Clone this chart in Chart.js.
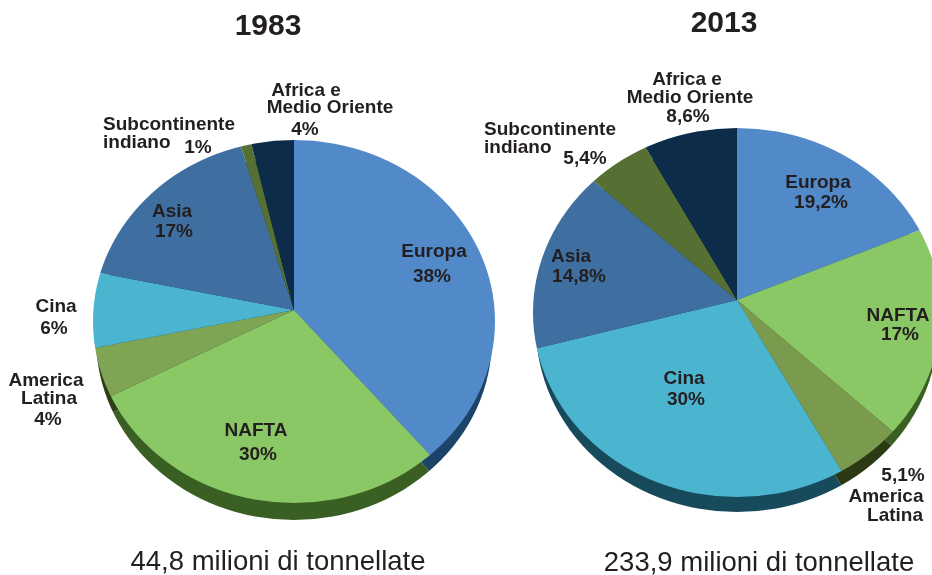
<!DOCTYPE html>
<html>
<head>
<meta charset="utf-8">
<title>Produzione per area</title>
<script src="https://cdn.jsdelivr.net/npm/chart.js@4/dist/chart.umd.min.js"></script>
<style>
    html, body { margin: 0; padding: 0; background: #fff; }
    #page { position: relative; width: 932px; height: 575px; overflow: hidden; }
    #page canvas { position: absolute; top: 0; }
</style>
</head>
<body>
<div id="page">
    <canvas id="c1983"></canvas>
    <canvas id="c2013"></canvas>
</div>

<script type="text/javascript">
    // data
    var categories1983 = ["Europa", "NAFTA", "America\nLatina", "Cina", "Asia", "Subcontinente\nindiano", "Africa e\nMedio Oriente"];
    var values1983 = [38, 30, 4, 6, 17, 1, 4];
    var percent1983 = ["38%", "30%", "4%", "6%", "17%", "1%", "4%"];
    var title1983 = "1983";
    var total1983 = "44,8 milioni di tonnellate";

    var categories2013 = ["Europa", "NAFTA", "America\nLatina", "Cina", "Asia", "Subcontinente\nindiano", "Africa e\nMedio Oriente"];
    var values2013 = [19.2, 17, 5.1, 30, 14.8, 5.4, 8.6];
    var percent2013 = ["19,2%", "17%", "5,1%", "30%", "14,8%", "5,4%", "8,6%"];
    var title2013 = "2013";
    var total2013 = "233,9 milioni di tonnellate";

    // colours
    var topColors1983 = ["#5289c9", "#8ac765", "#7fa554", "#4bb5d0", "#3f6fa0", "#566f33", "#0c2c4a"];
    var rimColors1983 = ["#1c4469", "#3a5f23", "#2f3f15", "#174a5b", "#1f3a56", "#2a3a18", "#061a2c"];
    var topColors2013 = ["#5289c9", "#8ac765", "#7a9a4e", "#4bb5d0", "#3f6fa0", "#566f33", "#0c2c4a"];
    var rimColors2013 = ["#1c4469", "#3a5f23", "#2b3a14", "#174a5b", "#1f3a56", "#2a3a18", "#061a2c"];

    // where each text line sits on the page: one [x, y, align] per line, name lines then percent
    var labelPlaces1983 = [
        [[434, 252], [432, 277]],
        [[256, 431], [258, 455]],
        [[46, 381], [49, 399], [48, 420]],
        [[56, 307], [54, 329]],
        [[172, 212], [174, 232]],
        [[103, 125, "left"], [103, 143, "left"], [198, 148]],
        [[306, 91], [330, 108], [305, 130]]
    ];
    var labelPlaces2013 = [
        [[818, 183], [821, 203]],
        [[898, 316], [900, 335]],
        [[886, 497], [895, 516], [903, 476]],
        [[684, 379], [686, 400]],
        [[571, 257], [579, 277]],
        [[484, 130, "left"], [484, 148, "left"], [585, 159]],
        [[687, 80], [690, 98], [688, 117]]
    ];

    var ink = "#231f20";
    var fontName = "'Liberation Sans', Arial, sans-serif";

    var pie3d = {
        id: "pie3d",
        beforeDatasetsDraw: function(chart, args, o){
            var ctx = chart.ctx;
            var arcs = chart.getDatasetMeta(0).data;

            // side of the pie: same wedges pushed down, darker
            ctx.save();
            ctx.beginPath();
            ctx.ellipse(o.cx - o.left, o.cy + o.depth, o.rx - 3, o.ry, 0, 0, Math.PI * 2);
            ctx.clip();
            ctx.translate(0, o.depth);
            arcs.forEach(function(arc, i){
                var fill = arc.options.backgroundColor;
                arc.options.backgroundColor = o.rim[i];
                arc.draw(ctx);
                arc.options.backgroundColor = fill;
            });
            ctx.restore();

            // top of the pie is an ellipse around an off centre apex
            ctx.save();
            ctx.beginPath();
            ctx.ellipse(o.cx - o.left, o.cy, o.rx, o.ry, 0, 0, Math.PI * 2);
            ctx.clip();
        },
        afterDatasetsDraw: function(chart, args, o){
            var ctx = chart.ctx;
            ctx.restore();

            ctx.fillStyle = ink;
            ctx.textBaseline = "middle";

            ctx.textAlign = "center";
            ctx.font = "bold 30px " + fontName;
            ctx.fillText(o.title, o.titleAt[0] - o.left, o.titleAt[1]);
            ctx.font = "27.5px " + fontName;
            ctx.fillText(o.total, o.totalAt[0] - o.left, o.totalAt[1]);

            ctx.font = "bold 19px " + fontName;
            chart.data.labels.forEach(function(name, i){
                var lines = name.split("\n").concat(o.percent[i]);
                lines.forEach(function(line, n){
                    var p = o.places[i][n];
                    ctx.textAlign = p[2] || "center";
                    ctx.fillText(line, p[0] - o.left, p[1]);
                });
            });
        }
    };

    var createPie = function(id, info){
        var canvas = document.getElementById(id);
        canvas.width = info.width;
        canvas.height = info.height;
        canvas.style.left = info.left + "px";

        new Chart(canvas.getContext("2d"), {
            type: "pie",
            data: {
                labels: info.categories,
                datasets: [{
                    data: info.values,
                    backgroundColor: info.colors,
                    borderWidth: 0
                }]
            },
            options: {
                responsive: false,
                animation: false,
                radius: 250,
                clip: false,
                events: [],
                layout: { padding: 0 },
                plugins: {
                    legend: { display: false },
                    tooltip: { enabled: false },
                    pie3d: info.shape
                }
            },
            plugins: [pie3d]
        });
    };

    createPie("c1983", {
        left: 0, width: 588, height: 620,
        categories: categories1983,
        values: values1983,
        colors: topColors1983,
        shape: {
            left: 0, cx: 294, cy: 321.5, rx: 201, ry: 181.5, depth: 17,
            rim: rimColors1983, places: labelPlaces1983, percent: percent1983,
            title: title1983, titleAt: [268, 27],
            total: total1983, totalAt: [278, 562]
        }
    });

    createPie("c2013", {
        left: 437, width: 600, height: 600,
        categories: categories2013,
        values: values2013,
        colors: topColors2013,
        shape: {
            left: 437, cx: 737, cy: 312.5, rx: 204, ry: 184.5, depth: 15,
            rim: rimColors2013, places: labelPlaces2013, percent: percent2013,
            title: title2013, titleAt: [724, 24],
            total: total2013, totalAt: [759, 563]
        }
    });
</script>
</body>
</html>
